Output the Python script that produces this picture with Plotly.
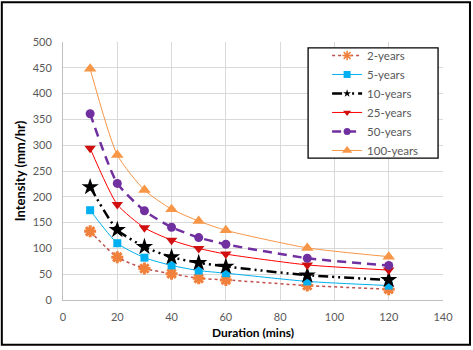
import plotly.graph_objects as go

durations = [10, 20, 30, 40, 50, 60, 90, 120]
series_names = ["2-years", "5-years", "10-years", "25-years", "50-years", "100-years"]
i_2yr = [133, 83, 61, 51, 42, 39, 28, 21]
i_5yr = [174, 110, 82, 67, 57, 52, 36, 28]
i_10yr = [219, 136, 103, 83, 72, 65, 48, 39]
i_25yr = [294, 185, 140, 116, 100, 89, 68, 58]
i_50yr = [361, 226, 173, 141, 121, 108, 81, 67]
i_100yr = [448, 281, 213, 176, 153, 135, 101, 84]

values = [i_2yr, i_5yr, i_10yr, i_25yr, i_50yr, i_100yr]
lines = [
    dict(color="#C0504D", width=1.5, dash="dot"),
    dict(color="#00B0F0", width=1),
    dict(color="#000000", width=2.5, dash="10px,4px,2px,4px,2px,4px"),
    dict(color="#FF0000", width=1),
    dict(color="#7030A0", width=2.5, dash="9px,6px"),
    dict(color="#F79646", width=1),
]
markers = [
    dict(symbol="asterisk-open", size=10, color="#F0803C", line=dict(color="#F0803C", width=3)),
    dict(symbol="square", size=8, color="#00B0F0"),
    dict(symbol="star", size=13, color="#000000"),
    dict(symbol="triangle-down", size=10, color="#D01010"),
    dict(symbol="circle", size=9, color="#7030A0"),
    dict(symbol="triangle-up", size=11, color="#F79646"),
]
legend_markers = [
    dict(symbol="asterisk-open", size=8, color="#F0803C", line=dict(color="#F0803C", width=1.5)),
    dict(symbol="square", size=7, color="#00B0F0"),
    dict(symbol="star", size=6, color="#000000"),
    dict(symbol="triangle-down", size=7, color="#D01010"),
    dict(symbol="circle", size=7, color="#7030A0"),
    dict(symbol="triangle-up", size=9, color="#F79646"),
]

fig = go.Figure()
for name, vals, ln, mk in zip(series_names, values, lines, markers):
    fig.add_trace(go.Scatter(x=durations, y=vals, name=name, mode="lines+markers",
                             line=dict(shape="spline", smoothing=0.6, **ln),
                             marker=mk, showlegend=False))
for name, ln, mk in zip(series_names, lines, legend_markers):
    fig.add_trace(go.Scatter(x=[None], y=[None], name=name, mode="lines+markers",
                             line=dict(ln), marker=mk, showlegend=True))

fig.update_layout(
    width=473, height=350,
    margin=dict(l=63, r=30, t=42, b=48),
    paper_bgcolor="white", plot_bgcolor="white",
    font=dict(family="Lato, Liberation Sans, sans-serif", size=11, color="#595959"),
    showlegend=True,
    legend=dict(x=0.695, y=1.004, xanchor="left", yanchor="top",
                borderwidth=0, bgcolor="rgba(0,0,0,0)",
                font=dict(size=11.5, color="#595959"), tracegroupgap=0),
    xaxis=dict(range=[0, 140], dtick=20, tick0=0, showgrid=True, gridcolor="#D9D9D9",
               showline=True, linecolor="#BFBFBF", zeroline=False, ticks="",
               ticklabelstandoff=7,
               title=dict(text="<b>Duration (mins)</b>", font=dict(size=12, color="#000000"), standoff=6)),
    yaxis=dict(range=[0, 500], dtick=50, tick0=0, showgrid=True, gridcolor="#D9D9D9",
               showline=True, linecolor="#BFBFBF", zeroline=False, ticks="",
               ticklabelstandoff=8,
               title=dict(text="<b>Intensity (mm/hr)</b>", font=dict(size=13, color="#000000"), standoff=4)),
    shapes=[
        dict(type="rect", xref="paper", yref="paper",
             x0=-0.161, x1=1.071, y0=-0.173, y1=1.154,
             line=dict(color="#000000", width=2), fillcolor="rgba(0,0,0,0)"),
        dict(type="rect", xref="paper", yref="paper",
             x0=0.645, x1=0.987, y0=0.55, y1=0.977,
             line=dict(color="#000000", width=1.3), fillcolor="white", layer="above"),
    ],
)

fig.write_html("out.html")
